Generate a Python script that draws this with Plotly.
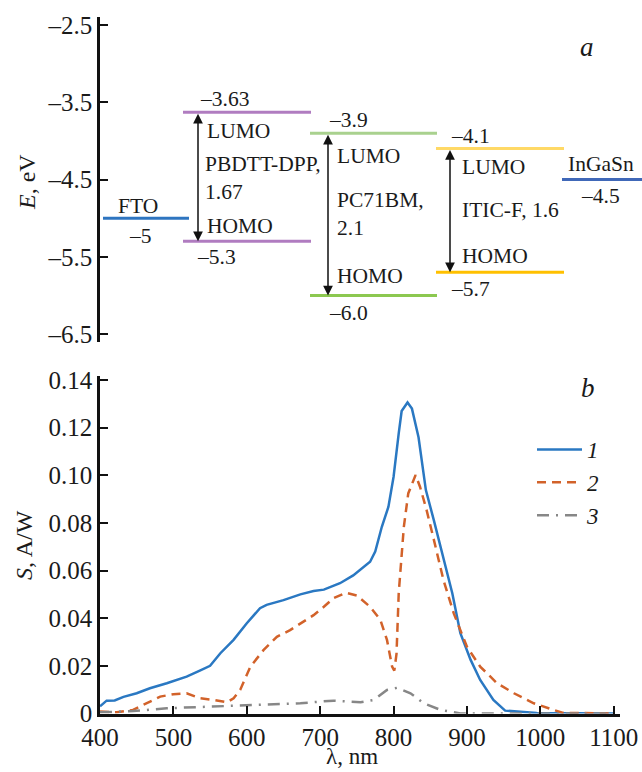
import plotly.graph_objects as go

# ---------------- Panel a: energy levels ----------------
materials = ["FTO", "PBDTT-DPP", "PC71BM", "ITIC-F", "InGaSn"]
lumo = [-5.0, -3.63, -3.9, -4.1, -4.5]
homo = [None, -5.3, -6.0, -5.7, None]
lumo_text = ["–5", "–3.63", "–3.9", "–4.1", "–4.5"]
homo_text = [None, "–5.3", "–6.0", "–5.7", None]
name_text = ["FTO", "PBDTT-DPP,<br>1.67", "PC71BM,<br>2.1", "ITIC-F, 1.6", "InGaSn"]
lumo_colors = ["#2e75c0", "#b07cc0", "#a9d18e", "#ffd966", "#4068b8"]
homo_colors = [None, "#b07cc0", "#8cc850", "#ffc000", None]

# ---------------- Panel b: spectral sensitivity ----------------
wl1 = [400, 409, 420, 432, 450, 468, 491, 505, 518, 536, 550, 564, 582, 600, 618, 627, 650, 673, 691,
       705, 727, 745, 768, 775, 784, 793, 800, 807, 811, 819, 825, 834, 844, 855, 866, 880, 891, 905,
       918, 927, 936, 952, 973, 995, 1100]
s1 = [0.003, 0.0054, 0.0055, 0.007, 0.0085, 0.0106, 0.0127, 0.0143, 0.0155, 0.018, 0.020, 0.0253,
      0.0309, 0.0379, 0.0442, 0.0456, 0.0476, 0.050, 0.0514, 0.052, 0.0547, 0.058, 0.0637, 0.068,
      0.0784, 0.0868, 0.0994, 0.1176, 0.127, 0.1306, 0.128, 0.116, 0.0938, 0.081, 0.0673, 0.0505,
      0.0337, 0.0225, 0.0141, 0.0099, 0.0057, 0.0012, 0.0008, 0.0002, 0.0]

wl2 = [400, 423, 445, 464, 482, 500, 518, 536, 555, 573, 582, 591, 605, 623, 641, 659, 673, 691, 705,
       718, 735, 750, 768, 782, 791, 798, 801, 804, 807, 814, 820, 830, 836, 845, 855, 868, 882, 900,
       918, 941, 964, 991, 1018, 1030, 1100]
s2 = [0.0008, 0.0005, 0.0015, 0.0043, 0.0071, 0.0081, 0.0085, 0.0064, 0.0057, 0.0047, 0.0064, 0.0099,
      0.0197, 0.0267, 0.0322, 0.035, 0.0379, 0.0413, 0.0448, 0.0484, 0.0507, 0.0495, 0.0448, 0.0393,
      0.0309, 0.0197, 0.018, 0.025, 0.0505, 0.0784, 0.0924, 0.1001, 0.0952, 0.0854, 0.0728, 0.056,
      0.042, 0.028, 0.0197, 0.0127, 0.0085, 0.0043, 0.0015, 0.0003, 0.0]

wl3 = [400, 445, 491, 545, 600, 673, 700, 718, 755, 773, 791, 805, 823, 841, 864, 891, 1100]
s3 = [0.0005, 0.001, 0.0022, 0.0029, 0.0036, 0.0043, 0.005, 0.0054, 0.0047, 0.0057, 0.0099, 0.0108,
      0.0085, 0.0043, 0.0015, 0.0, 0.0]

curve_names = ["<i>1</i>", "<i>2</i>", "<i>3</i>"]
x_ticks = [400, 500, 600, 700, 800, 900, 1000, 1100]
s_ticks = [0, 0.02, 0.04, 0.06, 0.08, 0.10, 0.12, 0.14]
s_ticktext = ["0", "0.02", "0.04", "0.06", "0.08", "0.10", "0.12", "0.14"]
e_ticks = [-2.5, -3.5, -4.5, -5.5, -6.5]
e_ticktext = ["–2.5", "–3.5", "–4.5", "–5.5", "–6.5"]

# ---------------- layout constants (pixel geometry) ----------------
W, H = 642, 772
FONT = "Liberation Serif, Times New Roman, serif"
TXT = "#1a1a1a"
col_x = [(103, 189), (183, 311), (310, 437), (436, 564), (562, 642)]  # horizontal extents (px units of top x axis)
arrow_x = [None, 198, 328, 450, None]


def E_of_px(y):
    return -2.5 - (y - 25) / 77.25


fig = go.Figure()

# level lines
for i, m in enumerate(materials):
    x0, x1 = col_x[i]
    fig.add_trace(go.Scatter(x=[x0, x1], y=[lumo[i], lumo[i]], mode="lines",
                             line=dict(color=lumo_colors[i], width=3), showlegend=False,
                             hoverinfo="skip", xaxis="x", yaxis="y"))
    if homo[i] is not None:
        fig.add_trace(go.Scatter(x=[x0, x1], y=[homo[i], homo[i]], mode="lines",
                                 line=dict(color=homo_colors[i], width=3), showlegend=False,
                                 hoverinfo="skip", xaxis="x", yaxis="y"))

# spectra
fig.add_trace(go.Scatter(x=wl1, y=s1, mode="lines", name=curve_names[0],
                         line=dict(color="#2a78c2", width=2.5), xaxis="x2", yaxis="y2"))
fig.add_trace(go.Scatter(x=wl2, y=s2, mode="lines", name=curve_names[1],
                         line=dict(color="#d2622a", width=2.5, dash="9px,6px"), xaxis="x2", yaxis="y2"))
fig.add_trace(go.Scatter(x=wl3, y=s3, mode="lines", name=curve_names[2],
                         line=dict(color="#878787", width=2.5, dash="12px,7px,2px,7px"), xaxis="x2", yaxis="y2"))

ann = []
tf = dict(family=FONT, size=21.5, color=TXT)


def A(x, y, text, xanchor="center", yshift=0, font=tf, xref="x", yref="y"):
    ann.append(dict(x=x, y=y, text=text, showarrow=False, xref=xref, yref=yref, align="left",
                    xanchor=xanchor, yanchor="middle", yshift=yshift, font=font))


# value labels
A(140, lumo[0], lumo_text[0], yshift=-18)
A(138, lumo[0], name_text[0], yshift=12)
A(224, lumo[1], lumo_text[1], yshift=13)
A(216, homo[1], homo_text[1], yshift=-16)
A(348, lumo[2], lumo_text[2], yshift=13)
A(348, homo[2], homo_text[2], yshift=-18)
A(470, lumo[3], lumo_text[3], yshift=13)
A(470, homo[3], homo_text[3], yshift=-17)
A(601, lumo[4], name_text[4], yshift=15)
A(600, lumo[4], lumo_text[4], yshift=-17)

# LUMO / HOMO / names inside columns
A(205, E_of_px(131), "LUMO", xanchor="left")
A(203, E_of_px(178), name_text[1], xanchor="left")
A(205, E_of_px(226), "HOMO", xanchor="left")
A(335, E_of_px(156), "LUMO", xanchor="left")
A(335, E_of_px(214), name_text[2], xanchor="left")
A(335, E_of_px(276), "HOMO", xanchor="left")
A(460, E_of_px(167), "LUMO", xanchor="left")
A(460, E_of_px(210), name_text[3], xanchor="left")
A(460, E_of_px(256), "HOMO", xanchor="left")

# gap arrows
for i in range(len(materials)):
    if homo[i] is None:
        continue
    ann.append(dict(x=arrow_x[i], y=homo[i], ax=arrow_x[i], ay=lumo[i], xref="x", yref="y",
                    axref="x", ayref="y", showarrow=True, arrowhead=2, arrowside="end+start",
                    arrowsize=1.3, arrowwidth=1.5, arrowcolor="#111", standoff=0, startstandoff=0,
                    text=""))

# panel letters and axis titles
lf = dict(family=FONT, size=27, color=TXT)
A(587 / W, 1 - 47 / H, "<i>a</i>", font=lf, xref="paper", yref="paper")
A(588 / W, 1 - 388 / H, "<i>b</i>", font=lf, xref="paper", yref="paper")
af = dict(family=FONT, size=24, color=TXT)
ann.append(dict(x=27 / W, y=1 - 182 / H, xref="paper", yref="paper", text="<i>E</i>, eV", showarrow=False,
                xanchor="center", yanchor="middle", textangle=-90, font=af))
ann.append(dict(x=24 / W, y=1 - 545 / H, xref="paper", yref="paper", text="<i>S</i>, A/W", showarrow=False,
                xanchor="center", yanchor="middle", textangle=-90, font=af))
ann.append(dict(x=352 / W, y=1 - 771 / H, xref="paper", yref="paper", text="λ, nm", showarrow=False,
                xanchor="center", yanchor="bottom", font=dict(family=FONT, size=23, color=TXT)))

axis_common = dict(showline=True, linecolor="#111", linewidth=2.5, ticks="inside", ticklen=8,
                   tickwidth=2, tickcolor="#111", showgrid=False, zeroline=False, automargin=False,
                   tickfont=dict(family=FONT, size=25, color=TXT))

fig.update_layout(
    template="none",
    width=W, height=H,
    margin=dict(l=0, r=0, t=0, b=0, autoexpand=False),
    paper_bgcolor="white", plot_bgcolor="white",
    xaxis=dict(domain=[100 / W, 1.0], range=[100, 642], visible=False, anchor="y", fixedrange=True,
               automargin=False),
    yaxis=dict(domain=[(H - 342) / H, (H - 17) / H], range=[E_of_px(342), E_of_px(17)],
               tickvals=e_ticks, ticktext=e_ticktext, anchor="x", **axis_common),
    xaxis2=dict(domain=[100 / W, 620 / W], range=[400, 1108.5], tickvals=x_ticks, anchor="y2",
                **axis_common),
    yaxis2=dict(domain=[(H - 713.5) / H, (H - 376) / H], range=[0, 0.1417], tickvals=s_ticks,
                ticktext=s_ticktext, anchor="x2", **axis_common),
    legend=dict(x=532 / W, y=1 - 428 / H, xanchor="left", yanchor="top", bgcolor="rgba(0,0,0,0)",
                font=dict(family=FONT, size=23, color=TXT), itemwidth=45, tracegroupgap=0),
    annotations=ann,
    showlegend=True,
)

fig.write_html("out.html", config={"displayModeBar": False},
               post_script="document.body.style.margin='0';document.body.style.padding='0';"
                           "document.documentElement.style.overflow='hidden';")
